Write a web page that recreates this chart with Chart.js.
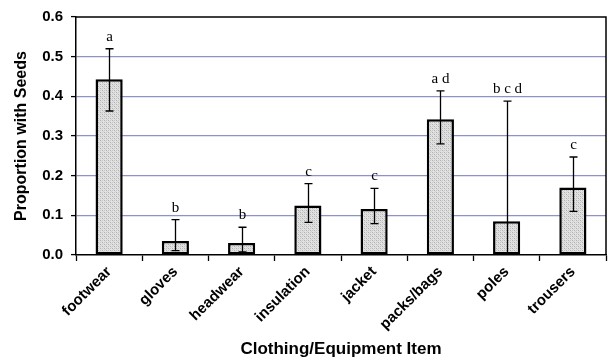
<!DOCTYPE html>
<html>
<head>
<meta charset="utf-8">
<script src="https://cdn.jsdelivr.net/npm/chart.js@4"></script>
<style>
  html, body { margin: 0; padding: 0; background: #fff; }
  #wrap { width: 611px; height: 363px; }
</style>
</head>
<body>
<div id="wrap"><canvas id="c" width="611" height="363"></canvas></div>
<script>
// Item categories
const categories = ['footwear', 'gloves', 'headwear', 'insulation', 'jacket', 'packs/bags', 'poles', 'trousers'];
// Proportion of items carrying seeds
const proportions = [0.443, 0.035, 0.030, 0.125, 0.116, 0.342, 0.085, 0.170];
// 95% interval bounds
const lowerBounds = [0.363, 0.011, 0.008, 0.082, 0.079, 0.280, 0.000, 0.110];
const upperBounds = [0.520, 0.089, 0.070, 0.180, 0.168, 0.414, 0.388, 0.247];
// Significance group letters
const groupLetters = ['a', 'b', 'b', 'c', 'c', 'a d', 'b c d', 'c'];
// Y axis ticks
const yTicks = [0, 0.1, 0.2, 0.3, 0.4, 0.5, 0.6];

// Stippled grey fill for the bars
function makeStipple() {
  const p = document.createElement('canvas');
  p.width = 4; p.height = 4;
  const g = p.getContext('2d');
  g.fillStyle = '#e2e2e2';
  g.fillRect(0, 0, 4, 4);
  g.fillStyle = '#b0b0b0';
  g.fillRect(0, 0, 1, 1);
  g.fillRect(2, 2, 1, 1);
  g.fillStyle = '#c6c6c6';
  g.fillRect(2, 0, 1, 1);
  g.fillRect(0, 2, 1, 1);
  g.fillStyle = '#d2d2d2';
  g.fillRect(1, 1, 1, 1);
  g.fillRect(3, 3, 1, 1);
  return g.createPattern(p, 'repeat');
}

// Error bars, group letters and the plot frame
const extrasPlugin = {
  id: 'extras',
  afterDatasetsDraw(chart) {
    const { ctx, chartArea, scales } = chart;
    const x = scales.x, y = scales.y;
    ctx.save();
    // frame: top and right edges
    ctx.strokeStyle = '#000';
    ctx.lineWidth = 1.5;
    ctx.beginPath();
    ctx.moveTo(chartArea.left, chartArea.top);
    ctx.lineTo(chartArea.right, chartArea.top);
    ctx.lineTo(chartArea.right, chartArea.bottom);
    ctx.stroke();

    ctx.lineWidth = 1.3;
    const cap = 4;
    categories.forEach((c, i) => {
      const cx = Math.round(x.getPixelForValue(i)) + 0.5;
      const yTop = y.getPixelForValue(upperBounds[i]);
      const yBot = y.getPixelForValue(lowerBounds[i]);
      ctx.beginPath();
      ctx.moveTo(cx, yTop);
      ctx.lineTo(cx, yBot);
      ctx.moveTo(cx - cap, yTop);
      ctx.lineTo(cx + cap, yTop);
      if (lowerBounds[i] > 0) {
        ctx.moveTo(cx - cap, yBot);
        ctx.lineTo(cx + cap, yBot);
      }
      ctx.stroke();

      ctx.fillStyle = '#000';
      ctx.font = '15px "Liberation Serif", "Times New Roman", serif';
      ctx.textAlign = 'center';
      ctx.textBaseline = 'alphabetic';
      ctx.fillText(groupLetters[i], cx, yTop - 8);
    });
    ctx.restore();
  }
};

const ctx = document.getElementById('c').getContext('2d');
new Chart(ctx, {
  type: 'bar',
  data: {
    labels: categories,
    datasets: [{
      data: proportions,
      backgroundColor: makeStipple(),
      borderColor: '#000',
      borderWidth: 2.5,
      borderSkipped: false,
      barPercentage: 0.41,
      categoryPercentage: 1.0
    }]
  },
  options: {
    responsive: false,
    animation: false,
    devicePixelRatio: 1,
    layout: { padding: { top: 11, right: 5, left: 0, bottom: 0 } },
    plugins: {
      legend: { display: false },
      tooltip: { enabled: false }
    },
    scales: {
      x: {
        offset: true,
        grid: {
          offset: true,
          drawOnChartArea: false,
          drawTicks: true,
          tickLength: 6,
          tickColor: '#000',
          tickWidth: 1.3
        },
        border: { display: true, color: '#000', width: 1.5 },
        ticks: {
          color: '#000',
          maxRotation: 45,
          minRotation: 45,
          padding: 2,
          font: { family: '"Liberation Sans", Arial, sans-serif', size: 15, weight: 'bold' }
        },
        title: {
          display: true,
          text: 'Clothing/Equipment Item',
          color: '#000',
          font: { family: '"Liberation Sans", Arial, sans-serif', size: 17, weight: 'bold' },
          padding: { top: 0, bottom: 3 }
        },
        afterFit(scale) { scale.height = 108; }
      },
      y: {
        min: 0,
        max: 0.6,
        afterBuildTicks(scale) { scale.ticks = yTicks.map(v => ({ value: v })); },
        grid: {
          color: (c) => (c.index >= 1 && c.index <= 5) ? '#8e93c7' : 'rgba(0,0,0,0)',
          lineWidth: 1.2,
          drawTicks: true,
          tickLength: 5,
          tickColor: '#000',
          tickWidth: 1.3
        },
        border: { display: true, color: '#000', width: 1.5 },
        ticks: {
          color: '#000',
          padding: 8,
          callback: (v) => Number(v).toFixed(1),
          font: { family: '"Liberation Sans", Arial, sans-serif', size: 15, weight: 'bold' }
        },
        title: {
          display: true,
          text: 'Proportion with Seeds',
          color: '#000',
          font: { family: '"Liberation Sans", Arial, sans-serif', size: 16, weight: 'bold' },
          padding: { top: 12, bottom: 0 }
        },
        afterFit(scale) { scale.width = 76; }
      }
    }
  },
  plugins: [extrasPlugin]
});
</script>
</body>
</html>
